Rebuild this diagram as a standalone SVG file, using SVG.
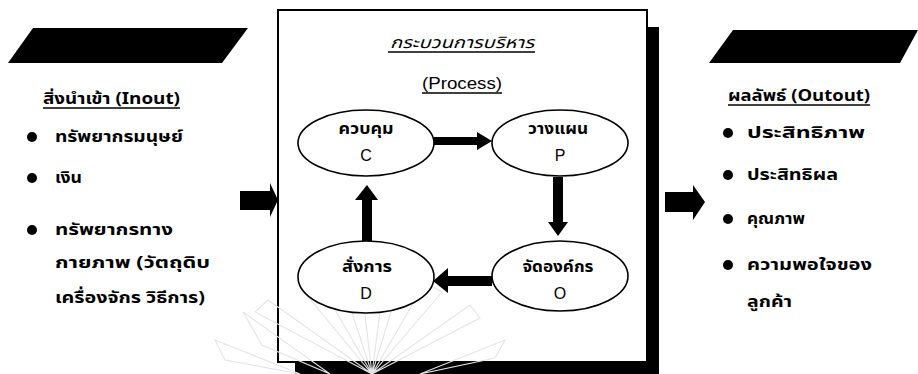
<svg xmlns="http://www.w3.org/2000/svg" width="918" height="374" viewBox="0 0 918 374">
<defs>
<style>
.t{font-family:"Noto Sans Thai","Noto Sans","DejaVu Sans",sans-serif;font-weight:bold;font-size:16px;fill:#000}
.n{font-family:"Noto Sans Thai","Noto Sans","DejaVu Sans",sans-serif;font-size:16px;fill:#000}
.l{font-family:"Liberation Sans",Arial,sans-serif;font-size:16px;fill:#000}
.e{fill:#fff;stroke:#000;stroke-width:1.6}
.u{stroke:#000;stroke-width:1.3}
.b{fill:#000}
.w{fill:none;stroke:#e4e4e4;stroke-width:1.1}
</style>
</defs>
<rect width="918" height="374" fill="#fff"/>
<g id="input">
<polygon class="b" points="33,28 248,28 222,63 8,63"/>
<text class="t" x="43" y="104" textLength="137" lengthAdjust="spacingAndGlyphs">สิ่งนำเข้า (Inout)</text>
<line class="u" x1="43" y1="108" x2="180" y2="108"/>
<circle class="b" cx="32" cy="137" r="5"/>
<text class="t" x="55" y="142" textLength="128" lengthAdjust="spacingAndGlyphs">ทรัพยากรมนุษย์</text>
<circle class="b" cx="32" cy="178" r="5"/>
<text class="t" x="55" y="183" textLength="27" lengthAdjust="spacingAndGlyphs">เงิน</text>
<circle class="b" cx="32" cy="230" r="5"/>
<text class="t" x="55" y="235" textLength="118" lengthAdjust="spacingAndGlyphs">ทรัพยากรทาง</text>
<text class="t" x="55" y="268" textLength="155" lengthAdjust="spacingAndGlyphs">กายภาพ (วัตถุดิบ</text>
<text class="t" x="55" y="303" textLength="150" lengthAdjust="spacingAndGlyphs">เครื่องจักร วิธีการ)</text>
</g>
<g id="process">
<rect class="b" x="295" y="27" width="364" height="347"/>
<rect x="278" y="10" width="369" height="352" fill="#fff" stroke="#000" stroke-width="2"/>
<text class="n" x="390" y="48" font-style="italic" textLength="144" lengthAdjust="spacingAndGlyphs">กระบวนการบริหาร</text>
<line class="u" x1="388" y1="52" x2="535" y2="52"/>
<text class="l" x="422" y="89" textLength="80" lengthAdjust="spacingAndGlyphs">(Process)</text>
<line class="u" x1="422" y1="93" x2="502" y2="93"/>
</g>
<g id="watermark">
<path class="w" d="M372 374 L300 287 L318 280 Z M372 374 L340 276 L360 272 Z M372 374 L385 272 L402 276 Z M372 374 L425 283 L442 292 Z M372 374 L470 305 L480 318 Z M372 374 L268 300 L255 312 Z M330 374 L243 312 L262 345 Z M300 374 L215 340 L225 360 Z M420 374 L505 340 L495 358 Z"/>
</g>
<g id="node-c">
<ellipse class="e" cx="366" cy="143" rx="68" ry="33"/>
<text class="t" x="366" y="134" text-anchor="middle" textLength="55" lengthAdjust="spacingAndGlyphs">ควบคุม</text>
<text class="l" x="366" y="161" text-anchor="middle">C</text>
</g>
<g id="node-p">
<ellipse class="e" cx="560" cy="143" rx="68" ry="33"/>
<text class="t" x="558" y="134" text-anchor="middle" textLength="60" lengthAdjust="spacingAndGlyphs">วางแผน</text>
<text class="l" x="560" y="161" text-anchor="middle">P</text>
</g>
<g id="node-o">
<ellipse class="e" cx="560" cy="276" rx="68" ry="35"/>
<text class="t" x="558" y="272" text-anchor="middle" textLength="71" lengthAdjust="spacingAndGlyphs">จัดองค์กร</text>
<text class="l" x="560" y="299" text-anchor="middle">O</text>
</g>
<g id="node-d">
<ellipse class="e" cx="366" cy="277" rx="68" ry="36"/>
<text class="t" x="367" y="272" text-anchor="middle" textLength="50" lengthAdjust="spacingAndGlyphs">สั่งการ</text>
<text class="l" x="366" y="299" text-anchor="middle">D</text>
</g>
<g id="output">
<polygon class="b" points="733,30 918,30 900,63 709,63"/>
<text class="t" x="728" y="101" textLength="142" lengthAdjust="spacingAndGlyphs">ผลลัพธ์ (Outout)</text>
<line class="u" x1="728" y1="105" x2="870" y2="105"/>
<circle class="b" cx="728" cy="133" r="5"/>
<text class="t" x="747" y="138" textLength="118" lengthAdjust="spacingAndGlyphs">ประสิทธิภาพ</text>
<circle class="b" cx="728" cy="175" r="5"/>
<text class="t" x="747" y="180" textLength="91" lengthAdjust="spacingAndGlyphs">ประสิทธิผล</text>
<circle class="b" cx="728" cy="219" r="5"/>
<text class="t" x="747" y="224" textLength="58" lengthAdjust="spacingAndGlyphs">คุณภาพ</text>
<circle class="b" cx="728" cy="265" r="5"/>
<text class="t" x="747" y="270" textLength="125" lengthAdjust="spacingAndGlyphs">ความพอใจของ</text>
<text class="t" x="747" y="307" textLength="45" lengthAdjust="spacingAndGlyphs">ลูกค้า</text>
</g>
<g id="connectors">
<polygon class="b" points="240,191 270,191 270,183 278,200 270,217 270,210 240,210"/>
<polygon class="b" points="665,192 693,192 693,185 705,202 693,220 693,212 665,212"/>
<polygon class="b" points="434,137 477,137 477,132 492,141 477,150 477,145 434,145"/>
<polygon class="b" points="553,177 563,177 563,222 568,222 558,236 548,222 553,222"/>
<polygon class="b" points="492,276 448,276 448,268 433,281 448,293 448,286 492,286"/>
<polygon class="b" points="362,241 372,241 372,200 378,200 367,185 355,200 362,200"/>
</g>
</svg>
